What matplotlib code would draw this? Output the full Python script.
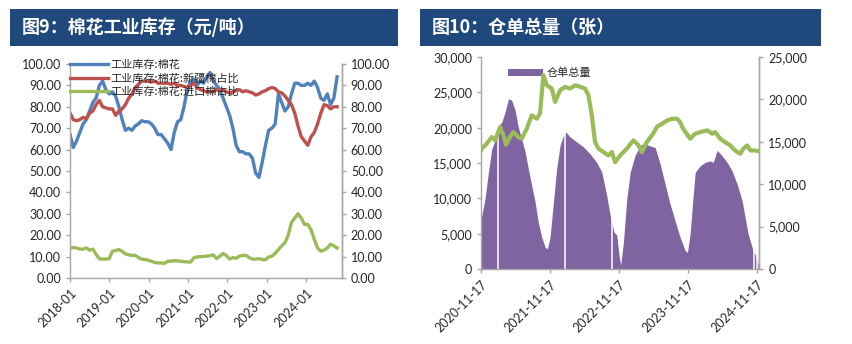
import numpy as np
import pandas as pd
import matplotlib.pyplot as plt
import matplotlib.dates as mdates
from matplotlib.patches import Rectangle, Patch
from matplotlib.ticker import FuncFormatter, MultipleLocator

plt.rcParams['font.family'] = ['Lato', 'Noto Sans CJK SC', 'DejaVu Sans']

# 图9 棉花工业库存, 2018-01 ~ 2024-10
inv_dates = pd.date_range(start='2018-01-01', end='2024-10-15', periods=83)
inv_total = [67, 61, 64, 68, 72, 74, 78, 82, 84, 90, 92, 88, 86, 87, 85, 80, 74, 69, 70, 69,
             71, 72, 73.5, 73, 73, 72, 70, 67, 67, 65, 63, 60, 68, 73, 74, 80, 88, 92, 93, 90,
             92, 91, 94, 96, 92, 90, 88, 84, 80, 76, 70, 62, 59, 59, 58, 58, 56, 49, 47, 54,
             62, 69, 70, 72, 86, 82, 78, 80, 86, 91, 91, 90, 90, 91, 90, 92, 89, 84, 83, 86,
             81, 84, 94]
inv_xinjiang = [77, 74, 73.5, 74, 75, 74.5, 77, 78, 81, 83, 80, 79.5, 79, 79, 76, 78, 79, 81, 84, 86,
                89, 90.5, 92, 92, 92, 91.5, 92, 91, 91, 91, 91, 90.5, 91, 90, 90, 89.5, 89, 90, 91, 89,
                88, 87.5, 87, 87, 87, 88, 87.5, 88, 87, 86.5, 87, 87.5, 88, 87, 87.5, 87, 86.5, 85.5, 86, 87,
                87.5, 88.5, 89, 88.5, 87, 86.5, 85, 83, 81, 77, 71, 66, 64, 62, 66, 68, 72, 77, 81, 80.5,
                79, 80, 80]
inv_import = [14, 14.2, 14, 13.5, 13.5, 14, 13, 13.5, 11, 9, 8.8, 8.8, 9, 12.5, 12.8, 13.3, 12.5, 11.2, 10.8, 10.5,
              10.6, 9.5, 8.8, 8.6, 8.3, 7.8, 7.2, 7, 7, 6.8, 7.8, 7.9, 8, 8, 7.8, 7.6, 7.5, 7.4, 9.4, 9.8,
              10, 10, 10.2, 10.4, 10.8, 9, 10.2, 11.4, 10.5, 8.8, 9.5, 9.2, 10.2, 10.5, 10.6, 9.5, 8.8, 8.8, 9, 8.6,
              8.5, 9.8, 10.2, 11.5, 13.3, 15, 16.5, 20, 26, 28, 30, 28, 25, 25, 22.5, 18, 14, 12.5, 13, 14,
              15.8, 15, 14]
inv_labels = ['工业库存:棉花', '工业库存:棉花:新疆棉占比', '工业库存:棉花:进口棉占比']

# 图10 仓单总量
receipt_dates = ['2020-11-17', '2020-11-21', '2020-12-08', '2020-12-26', '2021-01-13', '2021-01-30',
                 '2021-02-17', '2021-03-07', '2021-03-24', '2021-04-11', '2021-04-28', '2021-05-16',
                 '2021-06-02', '2021-06-20', '2021-07-08', '2021-07-25', '2021-08-12', '2021-08-30',
                 '2021-09-16', '2021-10-04', '2021-10-22', '2021-11-03', '2021-11-17', '2021-12-05',
                 '2021-12-22', '2022-01-09', '2022-01-27', '2022-02-08', '2022-03-03', '2022-04-07',
                 '2022-05-12', '2022-06-17', '2022-07-22', '2022-08-18', '2022-09-13', '2022-10-01',
                 '2022-10-22', '2022-11-05', '2022-11-17', '2022-11-26', '2022-12-10', '2022-12-28',
                 '2023-01-15', '2023-02-10', '2023-03-09', '2023-04-04', '2023-04-22', '2023-05-27',
                 '2023-06-22', '2023-07-19', '2023-08-14', '2023-09-10', '2023-10-06', '2023-11-02',
                 '2023-11-14', '2023-11-28', '2023-12-12', '2023-12-25', '2024-01-20', '2024-02-16',
                 '2024-03-13', '2024-03-29', '2024-04-19', '2024-05-16', '2024-06-11', '2024-07-07',
                 '2024-08-03', '2024-08-29', '2024-09-14', '2024-09-30', '2024-10-21', '2024-10-28',
                 '2024-11-06', '2024-11-17', '2024-11-22']
receipts = [7300, 7570, 9930, 13700, 17000, 18200,
            20300, 20800, 22200, 24100, 23900, 22500,
            20100, 18400, 16600, 14200, 11800, 9500,
            6600, 4500, 3100, 2840, 4500, 9500,
            14200, 17500, 18900, 19400, 18700, 18000,
            17300, 16300, 15100, 13700, 10400, 7570,
            5200, 4800, 1900, 570, 3800, 9930,
            13700, 16100, 17500, 17900, 17500, 17200,
            14900, 12000, 9200, 6800, 4500, 2600,
            2360, 4960, 9700, 13700, 14600, 15100,
            15300, 15100, 16800, 16000, 15100, 13900,
            12000, 9700, 7300, 4960, 3070, 2360,
            2100, 1180, 700]
# 无仓单数据的交易日
receipt_gaps = ['2021-02-17', '2022-02-04', '2022-10-10', '2024-11-02', '2024-11-15']

forecast_dates = ['2020-11-17', '2020-11-21', '2020-12-17', '2021-01-13', '2021-01-30', '2021-02-26',
                  '2021-03-15', '2021-03-29', '2021-04-19', '2021-05-07', '2021-06-02', '2021-06-20',
                  '2021-07-17', '2021-08-12', '2021-09-08', '2021-09-25', '2021-10-13', '2021-10-31',
                  '2021-11-26', '2021-12-14', '2022-01-09', '2022-02-05', '2022-03-03', '2022-03-30',
                  '2022-04-25', '2022-05-21', '2022-06-08', '2022-06-26', '2022-07-13', '2022-07-31',
                  '2022-08-26', '2022-09-22', '2022-10-10', '2022-10-27', '2022-11-23', '2022-12-28',
                  '2023-02-01', '2023-02-28', '2023-03-17', '2023-04-13', '2023-04-20', '2023-05-16',
                  '2023-06-07', '2023-07-03', '2023-07-30', '2023-08-25', '2023-09-20', '2023-10-06',
                  '2023-10-22', '2023-11-28', '2023-12-25', '2024-01-20', '2024-02-26', '2024-03-24',
                  '2024-04-09', '2024-05-05', '2024-05-31', '2024-06-27', '2024-07-23', '2024-08-19',
                  '2024-09-04', '2024-09-25', '2024-10-11', '2024-11-06', '2024-11-22']
forecast = [14000, 14200, 14790, 15570, 15180, 16750,
            15770, 14670, 15570, 16160, 15570, 15380,
            16560, 18130, 17740, 18340, 22870, 21680,
            21290, 19710, 21090, 21480, 21290, 21680,
            21500, 21290, 20500, 18130, 14980, 14200,
            13800, 13400, 13800, 12610, 13400, 14200,
            15180, 14590, 13800, 14980, 15170, 15960,
            16820, 17140, 17530, 17730, 17730, 17340,
            16550, 15370, 15960, 16150, 16350, 15960,
            16150, 15370, 14970, 14580, 13990, 13590,
            14180, 14580, 13990, 13990, 13900]

c_blue = '#4F81BD'
c_red = '#C0504D'
c_green = '#9BBB59'
c_purple = '#8064A2'
c_bar = '#1F497D'
c_spine = '#A6A6A6'
c_text = '#262626'

fig = plt.figure(figsize=(8.52, 3.44), dpi=100)

# 标题栏
for x0, w, title in [(0.0117, 0.4554, '图9：棉花工业库存（元/吨）'),
                     (0.4930, 0.4707, '图10：仓单总量（张）')]:
    fig.add_artist(Rectangle((x0, 0.867), w, 0.107, transform=fig.transFigure,
                             facecolor=c_bar, edgecolor='none'))
    fig.text(x0 + 0.014, 0.921, title, color='white', fontsize=13, fontweight='bold',
             va='center', ha='left', family=['Noto Sans CJK SC'])


def style_axes(ax, ax2):
    for a in (ax, ax2):
        a.spines['top'].set_visible(False)
        for s in ('left', 'right', 'bottom'):
            a.spines[s].set_color(c_spine)
            a.spines[s].set_linewidth(1)
        a.tick_params(colors=c_spine, labelcolor=c_text, labelsize=9, length=3, width=1)
    ax2.spines['left'].set_visible(False)
    ax2.spines['bottom'].set_visible(False)


# ---- 左图
ax = fig.add_axes([0.0822, 0.192, 0.319, 0.622])
ax2 = ax.twinx()
inv_dates = pd.to_datetime(inv_dates)
ax.plot(inv_dates, inv_total, color=c_blue, lw=2.4, label=inv_labels[0])
ax.plot(inv_dates, inv_xinjiang, color=c_red, lw=2.4, label=inv_labels[1])
ax.plot(inv_dates, inv_import, color=c_green, lw=2.4, label=inv_labels[2])
for a in (ax, ax2):
    a.set_ylim(0, 100)
    a.yaxis.set_major_locator(MultipleLocator(10))
    a.yaxis.set_major_formatter(FuncFormatter(lambda v, p: f'{v:.2f}'))
ax.set_xlim(pd.Timestamp('2018-01-01'), pd.Timestamp('2024-11-28'))
ax.xaxis.set_major_locator(mdates.YearLocator(month=1, day=1))
ax.xaxis.set_major_formatter(mdates.DateFormatter('%Y-%m'))
style_axes(ax, ax2)
for lbl in ax.get_xticklabels():
    lbl.set_rotation(45)
    lbl.set_ha('right')
    lbl.set_rotation_mode('anchor')
leg = ax.legend(loc='upper left', bbox_to_anchor=(-0.015, 1.04), frameon=False, fontsize=8,
                handlelength=3.4, handletextpad=0.2, labelspacing=0.25, borderaxespad=0)
for t in leg.get_texts():
    t.set_family(['Noto Sans CJK SC'])
    t.set_color(c_text)

# ---- 右图
bx = fig.add_axes([0.5646, 0.218, 0.3266, 0.616])
bx2 = bx.twinx()
rd = pd.to_datetime(receipt_dates)
bx.fill_between(rd, 0, receipts, color=c_purple, lw=0, label='仓单总量')
for g in pd.to_datetime(receipt_gaps):
    bx.axvline(g, color='white', lw=1.1)
bx2.plot(pd.to_datetime(forecast_dates), forecast, color=c_green, lw=3)
bx.set_ylim(0, 30000)
bx2.set_ylim(0, 25000)
bx.yaxis.set_major_locator(MultipleLocator(5000))
bx2.yaxis.set_major_locator(MultipleLocator(5000))
for a in (bx, bx2):
    a.yaxis.set_major_formatter(FuncFormatter(lambda v, p: f'{v:,.0f}'))
tick_days = pd.to_datetime(['2020-11-17', '2021-11-17', '2022-11-17', '2023-11-17', '2024-11-17'])
bx.set_xlim(pd.Timestamp('2020-11-17'), pd.Timestamp('2024-11-28'))
bx.set_xticks(tick_days)
bx.xaxis.set_major_formatter(mdates.DateFormatter('%Y-%m-%d'))
style_axes(bx, bx2)
for lbl in bx.get_xticklabels():
    lbl.set_rotation(45)
    lbl.set_ha('right')
    lbl.set_rotation_mode('anchor')
leg2 = bx.legend(handles=[Patch(facecolor=c_purple, label='仓单总量')], loc='upper left',
                 bbox_to_anchor=(0.08, 0.97), frameon=False, fontsize=8,
                 handlelength=3.2, handleheight=0.5, handletextpad=0.3, borderaxespad=0)
for t in leg2.get_texts():
    t.set_family(['Noto Sans CJK SC'])
    t.set_color(c_text)

fig.savefig('out.png', dpi=100)
